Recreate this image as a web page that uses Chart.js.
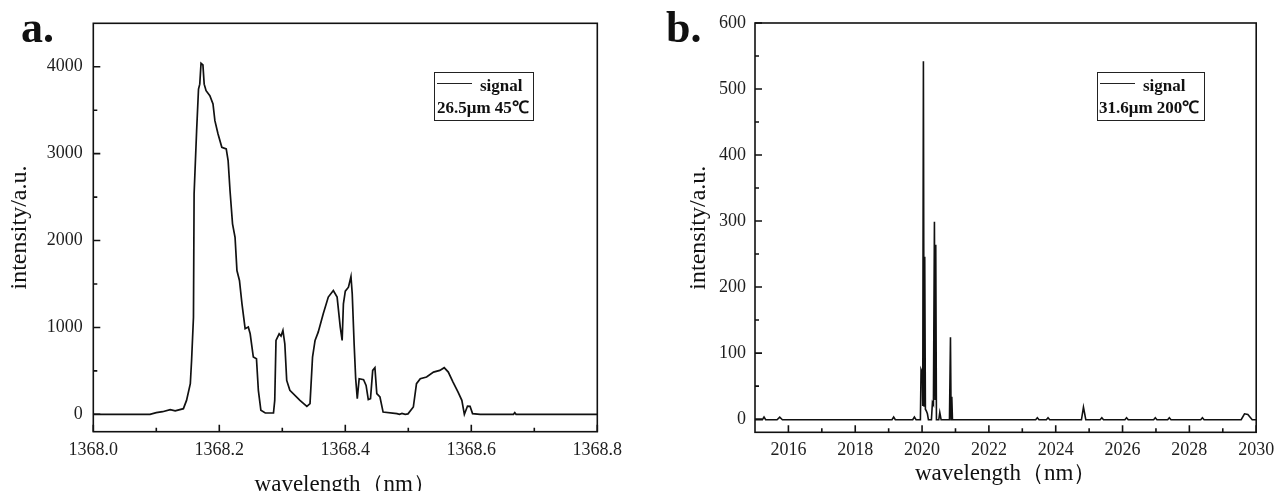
<!DOCTYPE html>
<html>
<head>
<meta charset="utf-8">
<script src="https://cdn.jsdelivr.net/npm/chart.js@4"></script>
<style>
  html, body { margin:0; padding:0; background:#fff; width:1281px; height:491px; overflow:hidden; }
  canvas { position:absolute; top:0; }
  .lbl { position:absolute; font-family:"Liberation Serif","Times New Roman",serif; color:#111; white-space:nowrap; }
  .panel { font-size:44px; line-height:44px; font-weight:bold; }
  .leg { position:absolute; border:1.5px solid #222; box-sizing:border-box; }
  .legtxt { font-size:17px; line-height:17px; font-weight:bold; }
  .legline { position:absolute; height:1.5px; background:#222; }
</style>
</head>
<body>
<canvas id="ca" width="640" height="500" style="left:0px"></canvas>
<canvas id="cb" width="641" height="491" style="left:640px"></canvas>

<div class="lbl panel" style="left:21px; top:6px;">a.</div>
<div class="lbl panel" style="left:666px; top:6px;">b.</div>

<div class="leg" style="left:434px; top:72px; width:100px; height:49px;"></div>
<div class="legline" style="left:437px; top:82.5px; width:35px;"></div>
<div class="lbl legtxt" id="legA1" style="left:480px; top:76.5px;"></div>
<div class="lbl legtxt" id="legA2" style="left:437px; top:99px;"></div>

<div class="leg" style="left:1097px; top:72px; width:108px; height:49px;"></div>
<div class="legline" style="left:1100px; top:82.5px; width:35px;"></div>
<div class="lbl legtxt" id="legB1" style="left:1143px; top:76.5px;"></div>
<div class="lbl legtxt" id="legB2" style="left:1099px; top:99px;"></div>

<script>
// ---------------- data (panel a) ----------------
const waveA = [
  1368.000, 1368.090, 1368.100, 1368.110, 1368.122, 1368.130, 1368.143, 1368.148, 1368.154, 1368.156,
  1368.159, 1368.160, 1368.164, 1368.167, 1368.169, 1368.171, 1368.174, 1368.176, 1368.179, 1368.185,
  1368.190, 1368.193, 1368.198, 1368.204, 1368.211, 1368.214, 1368.217, 1368.221, 1368.225, 1368.228,
  1368.232, 1368.236, 1368.241, 1368.246, 1368.249, 1368.254, 1368.259, 1368.262, 1368.266, 1368.273,
  1368.286, 1368.288, 1368.290, 1368.295, 1368.298, 1368.301, 1368.304, 1368.307, 1368.312, 1368.328,
  1368.339, 1368.344, 1368.348, 1368.352, 1368.357, 1368.365, 1368.373, 1368.381, 1368.387, 1368.392,
  1368.395, 1368.397, 1368.400, 1368.405, 1368.409, 1368.411, 1368.414, 1368.4165, 1368.419, 1368.422,
  1368.429, 1368.433, 1368.4365, 1368.440, 1368.4435, 1368.447, 1368.450, 1368.455, 1368.460, 1368.482,
  1368.486, 1368.490, 1368.495, 1368.4995, 1368.508, 1368.513, 1368.519, 1368.529, 1368.540, 1368.550,
  1368.557, 1368.5635, 1368.571, 1368.579, 1368.585, 1368.589, 1368.594, 1368.598, 1368.602, 1368.614,
  1368.667, 1368.669, 1368.671, 1368.800];
const intensityA = [
  0, 0, 20, 30, 54, 40, 65, 160, 352, 620,
  1118, 2536, 3264, 3743, 3800, 4040, 4020, 3800, 3724, 3667,
  3571, 3379, 3226, 3073, 3054, 2920, 2575, 2192, 2038, 1655,
  1540, 1272, 985, 1004, 927, 659, 640, 276, 46, 15,
  15, 160, 850, 927, 900, 965, 812, 390, 276, 161,
  92, 123, 659, 850, 946, 1157, 1349, 1425, 1349, 1004,
  850, 1272, 1417, 1463, 1586, 1387, 812, 410, 180, 410,
  398, 333, 169, 180, 506, 537, 238, 199, 26, 8,
  0, 10, 0, 5, 84, 353, 410, 429, 486, 506,
  537, 486, 371, 256, 161, 0, 95, 92, 8, 0,
  0, 20, 0, 0];

// ---------------- data (panel b) ----------------
const waveB = [2015.00, 2015.22, 2015.27, 2015.32, 2015.66, 2015.74, 2015.82,
  2019.10, 2019.15, 2019.20, 2019.72, 2019.77, 2019.82,
  2019.95, 2019.97, 2020.01, 2020.02, 2020.04, 2020.06, 2020.08, 2020.10, 2020.13, 2020.16, 2020.19,
  2020.28, 2020.31, 2020.34, 2020.37, 2020.39, 2020.41, 2020.43, 2020.50, 2020.53, 2020.57,
  2020.82, 2020.85, 2020.87, 2020.89, 2020.91,
  2023.40, 2023.45, 2023.50, 2023.72, 2023.77, 2023.82,
  2024.77, 2024.83, 2024.86, 2024.90,
  2025.33, 2025.38, 2025.43, 2026.07, 2026.12, 2026.17,
  2026.93, 2026.98, 2027.03, 2027.35, 2027.40, 2027.45,
  2028.34, 2028.39, 2028.44,
  2029.55, 2029.65, 2029.75, 2029.88, 2030.00];
const intensityB = [-1, -1, 3, -1, -1, 3, -1,
  -1, 3, -1, -1, 3, -1,
  -1, 75, 70, 20, 542, 20, 246, 15, 12, 8, -1,
  -1, 25, 22, 299, 30, 264, -1, -1, 10, -1,
  -1, 124, -1, 34, -1,
  -1, 2, -1, -1, 2, -1,
  -1, 18, 10, -1,
  -1, 2, -1, -1, 2, -1,
  -1, 2, -1, -1, 2, -1,
  -1, 2, -1,
  -1, 8, 7, -1, -1];

// ---------------- ticks / labels ----------------
const xTicksA = [1368.0, 1368.2, 1368.4, 1368.6, 1368.8];
const xMinorA = [1368.1, 1368.3, 1368.5, 1368.7];
const yTicksA = [0, 1000, 2000, 3000, 4000];
const yMinorA = [500, 1500, 2500, 3500];
const xTicksB = [2016, 2018, 2020, 2022, 2024, 2026, 2028, 2030];
const xMinorB = [2017, 2019, 2021, 2023, 2025, 2027, 2029];
const yTicksB = [0, 100, 200, 300, 400, 500, 600];
const yMinorB = [50, 150, 250, 350, 450, 550];

const seriesLabel = 'signal';
const noteA = '26.5μm 45℃';
const noteB = '31.6μm 200℃';
const xTitle = 'wavelength（nm）';
const yTitle = 'intensity/a.u.';

document.getElementById('legA1').textContent = seriesLabel;
document.getElementById('legB1').textContent = seriesLabel;
document.getElementById('legA2').textContent = noteA;
document.getElementById('legB2').textContent = noteB;

const FONT = '"Liberation Serif","Times New Roman",serif';

const frameTicks = {
  id: 'frameTicks',
  afterDraw(chart, args, o) {
    const {ctx, chartArea: {left, right, top, bottom}} = chart;
    const xs = chart.scales.x, ys = chart.scales.y;
    ctx.save();
    ctx.strokeStyle = '#111';
    ctx.lineWidth = 1.6;
    ctx.strokeRect(left, top, right - left, bottom - top);
    ctx.beginPath();
    o.xMajor.forEach(v => { const p = xs.getPixelForValue(v); ctx.moveTo(p, bottom); ctx.lineTo(p, bottom - 7); });
    o.xMinor.forEach(v => { const p = xs.getPixelForValue(v); ctx.moveTo(p, bottom); ctx.lineTo(p, bottom - 4); });
    o.yMajor.forEach(v => { const p = ys.getPixelForValue(v); ctx.moveTo(left, p); ctx.lineTo(left + 7, p); });
    o.yMinor.forEach(v => { const p = ys.getPixelForValue(v); ctx.moveTo(left, p); ctx.lineTo(left + 4, p); });
    ctx.stroke();
    ctx.restore();
  }
};

function makeChart(id, cfg) {
  return new Chart(document.getElementById(id), {
    type: 'scatter',
    data: {
      datasets: [{
        label: seriesLabel,
        data: cfg.xs.map((x, i) => ({x: x, y: cfg.ys[i]})),
        showLine: true,
        borderColor: '#111',
        borderWidth: cfg.lw,
        pointRadius: 0,
        tension: 0
      }]
    },
    options: {
      responsive: false,
      animation: false,
      devicePixelRatio: 1,
      layout: { padding: cfg.pad },
      plugins: {
        legend: { display: false },
        tooltip: { enabled: false },
        frameTicks: { xMajor: cfg.xT, xMinor: cfg.xM, yMajor: cfg.yT, yMinor: cfg.yM }
      },
      scales: {
        x: {
          type: 'linear', min: cfg.xMin, max: cfg.xMax,
          afterBuildTicks: s => { s.ticks = cfg.xT.map(v => ({value: v})); },
          afterFit: s => { s.height = cfg.xH; },
          grid: { display: false, drawTicks: false, tickLength: 0 },
          border: { display: false },
          ticks: {
            autoSkip: false, maxRotation: 0, minRotation: 0,
            padding: cfg.xPad, color: '#1e1e1e',
            font: { family: FONT, size: 18 },
            callback: cfg.xFmt
          },
          title: {
            display: true, text: xTitle, color: '#111',
            font: { family: FONT, size: 23 },
            padding: { top: 0, bottom: cfg.xTitlePad }
          }
        },
        y: {
          type: 'linear', min: cfg.yMin, max: cfg.yMax,
          afterBuildTicks: s => { s.ticks = cfg.yT.map(v => ({value: v})); },
          afterFit: s => { s.width = cfg.yW; },
          grid: { display: false, drawTicks: false, tickLength: 0 },
          border: { display: false },
          ticks: {
            autoSkip: false,
            padding: cfg.yPad, color: '#1e1e1e',
            font: { family: FONT, size: 18 },
            callback: v => String(v)
          },
          title: {
            display: true, text: yTitle, color: '#111',
            font: { family: FONT, size: 24 },
            padding: { top: cfg.yTitlePad, bottom: 0 }
          }
        }
      }
    },
    plugins: [frameTicks]
  });
}

makeChart('ca', {
  xs: waveA, ys: intensityA, lw: 1.7,
  xMin: 1368.0, xMax: 1368.8, yMin: -200, yMax: 4500,
  xT: xTicksA, xM: xMinorA, yT: yTicksA, yM: yMinorA,
  pad: { left: 0, top: 23.3, right: 42.7, bottom: 0 },
  xH: 68.3, yW: 93.3, xPad: 8, yPad: 10.5,
  xTitlePad: 1, yTitlePad: 5.6,
  xFmt: v => Number(v).toFixed(1)
});

makeChart('cb', {
  xs: waveB, ys: intensityB, lw: 1.6,
  xMin: 2015, xMax: 2030, yMin: -20, yMax: 600,
  xT: xTicksB, xM: xMinorB, yT: yTicksB, yM: yMinorB,
  pad: { left: 0, top: 23, right: 20, bottom: 0 },
  xH: 58.7, yW: 115, xPad: 6.8, yPad: 9,
  xTitlePad: 3.5, yTitlePad: 44.6,
  xFmt: v => String(v)
});
</script>
</body>
</html>
